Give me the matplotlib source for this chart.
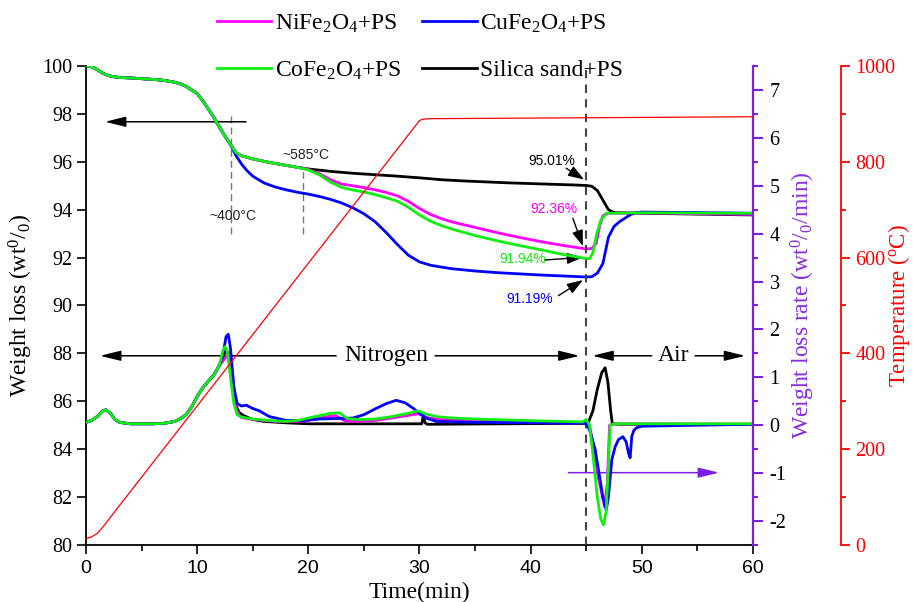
import numpy as np
import matplotlib
matplotlib.use('Agg')
import matplotlib.pyplot as plt
from matplotlib.ticker import MultipleLocator

# Curvas de TG (perda de massa, wt%) para cada amostra
t_inicio = [0, 0.5, 1.0, 1.5, 2.0, 2.5, 3, 4, 5, 6, 7, 8, 8.5, 9, 9.5, 10, 10.5,
            11, 11.5, 12, 12.5, 13]
tg_inicio = [100.0, 99.97, 99.85, 99.7, 99.6, 99.55, 99.52, 99.5, 99.47, 99.44, 99.4,
             99.32, 99.25, 99.15, 99.0, 98.85, 98.55, 98.2, 97.85, 97.45, 97.07, 96.72]

t_ni = [13.5, 14, 15, 16, 17, 18, 19, 20, 21, 22, 23, 24, 25, 26, 27, 28, 29, 30, 31,
        32, 33, 35, 37, 39, 41, 43, 45, 45.5, 45.9, 46.2, 46.5, 47, 50, 60]
tg_ni = [96.38, 96.25, 96.12, 96.02, 95.93, 95.85, 95.77, 95.68, 95.5, 95.25, 95.07,
         95.0, 94.92, 94.83, 94.72, 94.58, 94.35, 94.05, 93.8, 93.62, 93.48, 93.26,
         93.04, 92.84, 92.66, 92.5, 92.36, 92.38, 92.6, 93.3, 93.75, 93.85, 93.87, 93.8]

t_cu = [13.5, 14, 14.5, 15, 16, 17, 18, 19, 20, 21, 22, 23, 24, 25, 26, 27, 28, 29, 30,
        31, 32, 33, 35, 37, 39, 41, 43, 45, 45.5, 46, 46.5, 47, 47.5, 48, 48.5, 49,
        49.5, 50, 55, 60]
tg_cu = [96.25, 95.9, 95.62, 95.4, 95.12, 94.95, 94.83, 94.73, 94.65, 94.55, 94.43,
         94.28, 94.08, 93.83, 93.5, 93.05, 92.55, 92.1, 91.82, 91.68, 91.6, 91.53,
         91.44, 91.37, 91.32, 91.27, 91.23, 91.19, 91.2, 91.35, 91.75, 92.85, 93.3,
         93.5, 93.65, 93.8, 93.88, 93.9, 93.88, 93.85]

t_co = [13.5, 14, 15, 16, 17, 18, 19, 20, 21, 22, 23, 24, 25, 26, 27, 28, 29, 30, 31,
        32, 33, 35, 37, 39, 41, 43, 45, 45.3, 45.6, 45.9, 46.3, 46.8, 50, 60]
tg_co = [96.38, 96.25, 96.12, 96.02, 95.93, 95.85, 95.77, 95.66, 95.45, 95.15, 94.93,
         94.82, 94.74, 94.63, 94.5, 94.36, 94.1, 93.78, 93.52, 93.33, 93.18, 92.92,
         92.7, 92.5, 92.32, 92.12, 91.96, 91.95, 92.2, 92.9, 93.55, 93.85, 93.87, 93.85]

t_si = [13.5, 14, 15, 16, 17, 18, 19, 20, 22, 24, 26, 28, 30, 32, 34, 36, 38, 40, 42,
        44, 45, 45.5, 46, 46.5, 47, 47.5, 50, 60]
tg_si = [96.38, 96.25, 96.12, 96.02, 95.93, 95.85, 95.77, 95.7, 95.6, 95.52, 95.46,
         95.4, 95.33, 95.25, 95.2, 95.16, 95.12, 95.09, 95.06, 95.03, 95.01, 94.98,
         94.8, 94.4, 94.0, 93.88, 93.85, 93.78]

# Curvas de DTG (taxa de perda de massa, wt%/min)
t_dtg_inicio = [0, 0.5, 1.0, 1.5, 1.8, 2.2, 2.6, 3.0, 4, 6, 7, 8, 8.5, 9, 9.5, 10,
                10.5, 11, 11.5, 12]
dtg_inicio = [0.06, 0.1, 0.18, 0.3, 0.32, 0.25, 0.12, 0.06, 0.03, 0.03, 0.04, 0.08,
              0.14, 0.22, 0.38, 0.6, 0.78, 0.92, 1.05, 1.25]

t_dtg_ni = [12.5, 12.9, 13.2, 13.5, 13.8, 14, 15, 17, 19, 20, 21, 22, 22.5, 23.2, 24,
            26, 28, 29.9, 30.8, 32, 35, 40, 44.7, 45, 45.3, 45.7, 46.1, 46.65, 46.9,
            47.1, 47.5, 60]
dtg_ni = [1.4, 1.52, 1.0, 0.35, 0.2, 0.16, 0.12, 0.08, 0.08, 0.1, 0.15, 0.19, 0.2, 0.1,
          0.08, 0.1, 0.17, 0.24, 0.15, 0.12, 0.1, 0.07, 0.05, 0.1, 0.0, -0.5, -1.1,
          -1.7, -1.2, 0.0, 0.03, 0.02]

t_dtg_cu = [12.3, 12.6, 12.8, 13.0, 13.3, 13.6, 14, 14.4, 15, 15.6, 16.5, 18, 19.5, 21,
            24, 25, 26, 27, 27.9, 28.7, 29.4, 30, 30.6, 31.5, 33, 35, 40, 45, 45.3,
            45.8, 46.2, 46.5, 46.8, 47.0, 47.3, 47.6, 47.9, 48.3, 48.6, 48.8, 48.95,
            49.1, 49.3, 49.55, 50, 60]
dtg_cu = [1.45, 1.85, 1.9, 1.6, 0.8, 0.45, 0.4, 0.42, 0.35, 0.3, 0.18, 0.1, 0.1, 0.13,
          0.15, 0.22, 0.34, 0.45, 0.52, 0.47, 0.36, 0.25, 0.15, 0.08, 0.07, 0.06, 0.05,
          0.04, -0.1, -0.5, -1.07, -1.5, -1.77, -1.5, -0.72, -0.45, -0.3, -0.24, -0.35,
          -0.58, -0.68, -0.23, -0.1, -0.05, -0.02, 0.02]

t_dtg_co = [12.3, 12.5, 12.7, 13.0, 13.3, 13.6, 14, 15, 16, 17, 18, 19, 20, 21, 22,
            22.8, 23.5, 24.5, 26, 27.5, 29, 29.9, 30.5, 31.5, 33, 35, 38, 41, 44.7,
            45.0, 45.3, 45.6, 46.0, 46.3, 46.55, 46.8, 47.0, 47.15, 47.5, 50, 60]
dtg_co = [1.55, 1.64, 1.55, 1.0, 0.45, 0.22, 0.17, 0.13, 0.11, 0.09, 0.08, 0.1, 0.15,
          0.2, 0.25, 0.26, 0.14, 0.12, 0.13, 0.18, 0.25, 0.3, 0.24, 0.18, 0.15, 0.13,
          0.11, 0.09, 0.07, 0.12, 0.0, -0.6, -1.5, -1.95, -2.08, -1.8, -0.8, 0.0, 0.03,
          0.03, 0.03]

t_dtg_si = [12.3, 12.6, 12.9, 13.2, 13.5, 13.8, 14.2, 15, 16, 18, 20, 30.2, 30.35,
            30.5, 30.7, 44.9, 45.2, 45.6, 46.0, 46.4, 46.7, 46.95, 47.2, 47.35, 48, 60]
dtg_si = [1.4, 1.59, 1.4, 0.9, 0.4, 0.26, 0.2, 0.12, 0.08, 0.05, 0.03, 0.03, 0.2, 0.05,
          0.02, 0.04, 0.06, 0.3, 0.75, 1.1, 1.2, 0.9, 0.3, 0.03, 0.02, 0.02]

# Programa de temperatura (oC)
t_temp = [0, 0.5, 1, 1.5, 2, 2.5, 3, 30, 30.3, 31, 60]
temperatura = [13, 17, 24, 37, 52, 67, 82, 886, 889, 890, 894]

nomes = ['NiFe$_2$O$_4$+PS', 'CuFe$_2$O$_4$+PS', 'CoFe$_2$O$_4$+PS', 'Silica sand+PS']
cores = ['#FF00FF', '#0000FF', '#11EE11', '#000000']
roxo = '#7B1FE6'


def junta(t_a, y_a, t_b, y_b):
    # concatena o trecho comum com o trecho especifico da amostra
    return np.array(t_a + t_b), np.array(y_a + y_b)


def main():
    plt.rcParams['font.family'] = ['Liberation Serif', 'DejaVu Serif']
    plt.rcParams['mathtext.fontset'] = 'custom'
    plt.rcParams['mathtext.rm'] = 'Liberation Serif'
    plt.rcParams['mathtext.it'] = 'Liberation Serif:italic'
    plt.rcParams['axes.unicode_minus'] = False

    fig = plt.figure(figsize=(9.13, 6.02), dpi=100)
    ax = fig.add_axes([0.0942, 0.0947, 0.7305, 0.7957])
    ax_taxa = ax.twinx()
    ax_temp = ax.twinx()

    # TG
    tg_series = [(t_ni, tg_ni), (t_cu, tg_cu), (t_co, tg_co), (t_si, tg_si)]
    linhas = []
    for (tt, yy), cor, nome in zip(tg_series, cores, nomes):
        x, y = junta(t_inicio, tg_inicio, tt, yy)
        ln, = ax.plot(x, y, color=cor, lw=2.0, label=nome)
        linhas.append(ln)
    # a ordem de desenho deixa o verde por cima
    for ln, z in zip(linhas, [3, 4, 5, 2]):
        ln.set_zorder(z)

    # DTG
    dtg_series = [(t_dtg_si, dtg_si, cores[3]), (t_dtg_ni, dtg_ni, cores[0]),
                  (t_dtg_cu, dtg_cu, cores[1]), (t_dtg_co, dtg_co, cores[2])]
    for tt, yy, cor in dtg_series:
        x, y = junta(t_dtg_inicio, dtg_inicio, tt, yy)
        ax_taxa.plot(x, y, color=cor, lw=2.0)

    # temperatura
    ax_temp.plot(t_temp, temperatura, color='red', lw=0.9)

    # eixos
    ax.set_xlim(0, 60)
    ax.set_ylim(80, 100)
    ax_taxa.set_ylim(-2.5, 7.5)
    ax_temp.set_ylim(0, 1000)

    ax.xaxis.set_major_locator(MultipleLocator(10))
    ax.xaxis.set_minor_locator(MultipleLocator(5))
    ax.yaxis.set_major_locator(MultipleLocator(2))
    ax_taxa.yaxis.set_major_locator(MultipleLocator(1))
    ax_taxa.yaxis.set_minor_locator(MultipleLocator(0.5))
    ax_temp.yaxis.set_major_locator(MultipleLocator(200))
    ax_temp.yaxis.set_minor_locator(MultipleLocator(100))

    ax.spines['top'].set_visible(False)
    ax.spines['right'].set_visible(False)
    for a in (ax_taxa, ax_temp):
        a.spines['top'].set_visible(False)
        a.spines['left'].set_visible(False)
        a.spines['bottom'].set_visible(False)
    for s in ('left', 'bottom'):
        ax.spines[s].set_linewidth(1.3)

    ax_taxa.spines['right'].set_color(roxo)
    ax_taxa.spines['right'].set_linewidth(1.6)
    ax_temp.spines['right'].set_position(('axes', 1.1315))
    ax_temp.spines['right'].set_color('red')
    ax_temp.spines['right'].set_linewidth(1.3)

    ax.tick_params(axis='both', which='major', direction='out', length=6.5, width=1.2,
                   labelsize=14.5)
    ax.tick_params(axis='x', which='minor', direction='out', length=4.5, width=1.2)
    ax.tick_params(axis='x', labelsize=14, pad=4)
    for lab in ax.get_xticklabels():
        lab.set_family(['Liberation Sans', 'DejaVu Sans'])

    ax_taxa.tick_params(axis='y', which='major', length=7, width=1.5, color=roxo,
                        labelsize=14.5, pad=5)
    ax_taxa.tick_params(axis='y', which='minor', length=3.8, width=1.5, color=roxo)
    ax_temp.tick_params(axis='y', which='major', length=6.5, width=1.3, colors='red',
                        labelsize=14.5, pad=4)
    ax_temp.tick_params(axis='y', which='minor', length=3.8, width=1.3, colors='red')

    ax.set_xlabel('Time(min)', fontsize=17)
    ax.xaxis.set_label_coords(0.5, -0.077)
    ax.set_ylabel('Weight loss (wt$^{0}$/$_{0}$)', fontsize=17)
    ax.yaxis.set_label_coords(-0.077, 0.5)
    ax_taxa.set_ylabel('Weight loss rate (wt$^{0}$/$_{0}$/min)', fontsize=17,
                       color='#8A2BE2')
    ax_taxa.yaxis.set_label_coords(1.054, 0.5)
    ax_temp.set_ylabel(r'Temperature ($^{\mathrm{o}}$C)', fontsize=16.5, color='red')
    ax_temp.yaxis.set_label_coords(1.199, 0.5)

    # linhas tracejadas
    ax.axvline(45, color='#444444', lw=1.5, ls=(0, (4, 3)), zorder=6)
    ax.plot([13.0, 13.0], [93.0, 97.95], color='#777777', lw=1.0, ls=(0, (5, 3)))
    ax.plot([19.55, 19.55], [93.0, 95.73], color='#777777', lw=1.0, ls=(0, (5, 3)))
    ax.text(13.2, 93.75, '~400°C', fontsize=10, family='Liberation Sans',
            ha='center', va='center', color='#222222')
    ax.text(19.8, 96.28, '~585°C', fontsize=10, family='Liberation Sans',
            ha='center', va='center', color='#222222')

    # setas
    seta = dict(arrowstyle='-|>,head_length=0.9,head_width=0.22', color='black',
                lw=1.1, shrinkA=0, shrinkB=0, mutation_scale=14)
    ax.annotate('', xy=(1.7, 97.67), xytext=(14.4, 97.67), arrowprops=seta)
    ax.annotate('', xy=(1.26, 87.9), xytext=(22.5, 87.9), arrowprops=seta)
    ax.annotate('', xy=(44.4, 87.9), xytext=(31.4, 87.9), arrowprops=seta)
    ax.annotate('', xy=(45.55, 87.9), xytext=(50.9, 87.9), arrowprops=seta)
    ax.annotate('', xy=(59.3, 87.9), xytext=(54.8, 87.9), arrowprops=seta)
    ax.text(27.0, 87.93, 'Nitrogen', fontsize=17, ha='center', va='center')
    ax.text(52.85, 87.93, 'Air', fontsize=17, ha='center', va='center')
    seta_roxa = dict(seta, color=roxo)
    ax.annotate('', xy=(56.95, 83.02), xytext=(43.4, 83.02), arrowprops=seta_roxa)

    # valores finais em N2
    seta_p = dict(arrowstyle='-|>,head_length=0.8,head_width=0.28', color='black',
                  lw=1.0, shrinkA=0, shrinkB=0, mutation_scale=12)
    ax.text(41.9, 96.05, '95.01%', fontsize=10, family='Liberation Sans',
            ha='center', va='center', color='black')
    ax.annotate('', xy=(44.8, 95.26), xytext=(43.2, 95.73), arrowprops=seta_p)
    ax.text(42.1, 94.02, '92.36%', fontsize=10, family='Liberation Sans',
            ha='center', va='center', color=cores[0])
    ax.annotate('', xy=(44.7, 92.48), xytext=(43.8, 93.64), arrowprops=seta_p)
    ax.text(39.3, 91.93, '91.94%', fontsize=10, family='Liberation Sans',
            ha='center', va='center', color=cores[2])
    ax.annotate('', xy=(44.7, 92.01), xytext=(41.3, 91.9), arrowprops=seta_p)
    ax.text(39.9, 90.27, '91.19%', fontsize=10, family='Liberation Sans',
            ha='center', va='center', color=cores[1])
    ax.annotate('', xy=(44.7, 91.06), xytext=(42.5, 90.41), arrowprops=seta_p)

    # legenda em duas linhas acima do grafico
    ordem = [0, 2, 1, 3]
    fig.legend([linhas[i] for i in ordem], [nomes[i] for i in ordem], ncol=2,
               loc='upper left', bbox_to_anchor=(0.222, 1.003), frameon=False,
               fontsize=17, handlelength=2.3, handletextpad=0.15, columnspacing=0.9,
               labelspacing=1.05, borderaxespad=0.2)

    fig.savefig('out.png', dpi=100)


if __name__ == '__main__':
    main()
